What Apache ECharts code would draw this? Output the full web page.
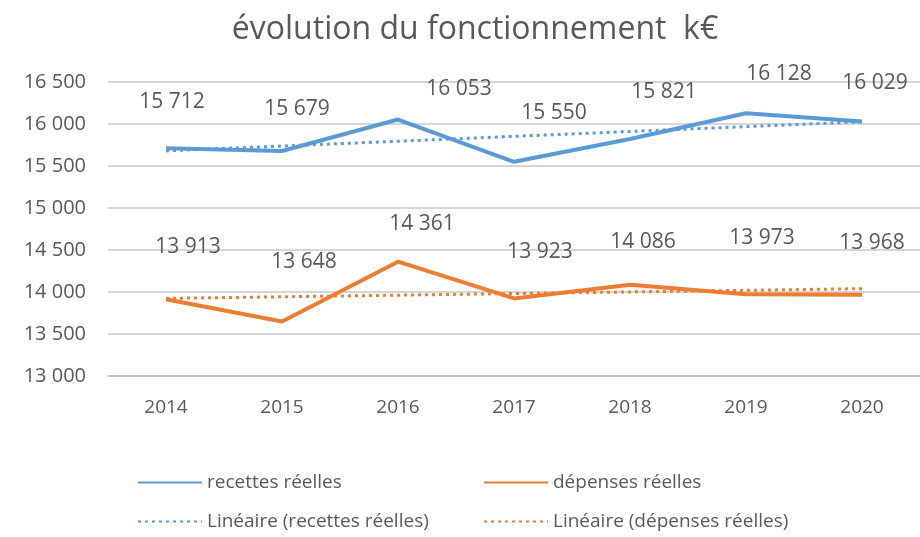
<!DOCTYPE html>
<html>
<head>
<meta charset="utf-8">
<title>évolution du fonctionnement k€</title>
<script src="https://cdn.jsdelivr.net/npm/echarts@6/dist/echarts.min.js"></script>
<style>
  html, body { margin: 0; padding: 0; background: #fff; }
  #main { width: 920px; height: 537px; }
</style>
</head>
<body>
<div id="main"></div>
<script type="text/javascript">
// données
var annees = ['2014', '2015', '2016', '2017', '2018', '2019', '2020'];
var recettes = [15712, 15679, 16053, 15550, 15821, 16128, 16029];
var depenses = [13913, 13648, 14361, 13923, 14086, 13973, 13968];
// courbes de tendance
var tendRecettes = [15680, 15738, 15795, 15853, 15911, 15969, 16026];
var tendDepenses = [13924, 13943, 13962, 13982, 14001, 14020, 14040];

// décalage des étiquettes [dx, dy] par rapport au point, comme dans Excel
var decalRecettes = [[6, -46], [15, -42], [61, -31], [40, -49], [34, -47], [33, -39], [13, -39]];
var decalDepenses = [[22, -52], [22, -60], [24, -38], [26, -46], [13, -43], [16, -56], [10, -52]];

var gris = '#595959';
var police = '"Open Sans", "Noto Sans", sans-serif';

function fmt(v) {
    var s = String(Math.round(v));
    return s.replace(/\B(?=(\d{3})+(?!\d))/g, ' ');
}

function points(valeurs, decal) {
    return valeurs.map(function (v, i) {
        return { value: v, label: { offset: decal[i] } };
    });
}

var myChart = echarts.init(document.getElementById('main'));

function legende(nom, left, top) {
    return {
        data: [nom],
        left: left,
        top: top,
        itemWidth: 64,
        itemHeight: 14,
        itemGap: 8,
        itemStyle: { opacity: 0 },
        textStyle: { color: gris, fontSize: 19, fontFamily: police },
        selectedMode: false
    };
}

var etiquette = {
    show: true, position: 'inside',
    color: gris, fontSize: 21, fontFamily: police,
    formatter: function (p) { return fmt(p.value); }
};

var option = {
    animation: false,
    title: {
        text: 'évolution du fonctionnement  k€',
        left: 470,
        textAlign: 'center',
        top: 9,
        textStyle: { color: gris, fontSize: 32, fontWeight: 'normal', fontFamily: police }
    },
    legend: [
        legende('recettes réelles', 132, 468),
        legende('dépenses réelles', 478, 468),
        legende('Linéaire (recettes réelles)', 132, 507),
        legende('Linéaire (dépenses réelles)', 478, 507)
    ],
    grid: { left: 108, right: 0, top: 82, bottom: 161 },
    xAxis: {
        type: 'category',
        data: annees,
        axisTick: { show: false },
        axisLine: { lineStyle: { color: '#bfbfbf', width: 1.5 } },
        axisLabel: { color: gris, fontSize: 19, fontFamily: police, margin: 22 }
    },
    yAxis: {
        type: 'value',
        min: 13000,
        max: 16500,
        interval: 500,
        axisLabel: { color: gris, fontSize: 20, fontFamily: police, margin: 22, formatter: fmt },
        splitLine: { lineStyle: { color: '#c8c8c8', width: 1.5 } }
    },
    series: [
        {
            name: 'recettes réelles',
            type: 'line',
            data: points(recettes, decalRecettes),
            symbol: 'circle',
            symbolSize: 0,
            showSymbol: true,
            color: '#5B9BD5',
            lineStyle: { width: 4 },
            z: 3,
            label: etiquette
        },
        {
            name: 'dépenses réelles',
            type: 'line',
            data: points(depenses, decalDepenses),
            symbol: 'circle',
            symbolSize: 0,
            showSymbol: true,
            color: '#ED7D31',
            lineStyle: { width: 4 },
            z: 3,
            label: etiquette
        },
        {
            name: 'Linéaire (recettes réelles)',
            type: 'line',
            data: tendRecettes,
            symbol: 'none',
            color: '#5B9BD5',
            lineStyle: { width: 3, type: [3, 4] },
            z: 2
        },
        {
            name: 'Linéaire (dépenses réelles)',
            type: 'line',
            data: tendDepenses,
            symbol: 'none',
            color: '#ED7D31',
            lineStyle: { width: 3, type: [3, 4] },
            z: 2
        }
    ]
};

myChart.setOption(option);
</script>
</body>
</html>
